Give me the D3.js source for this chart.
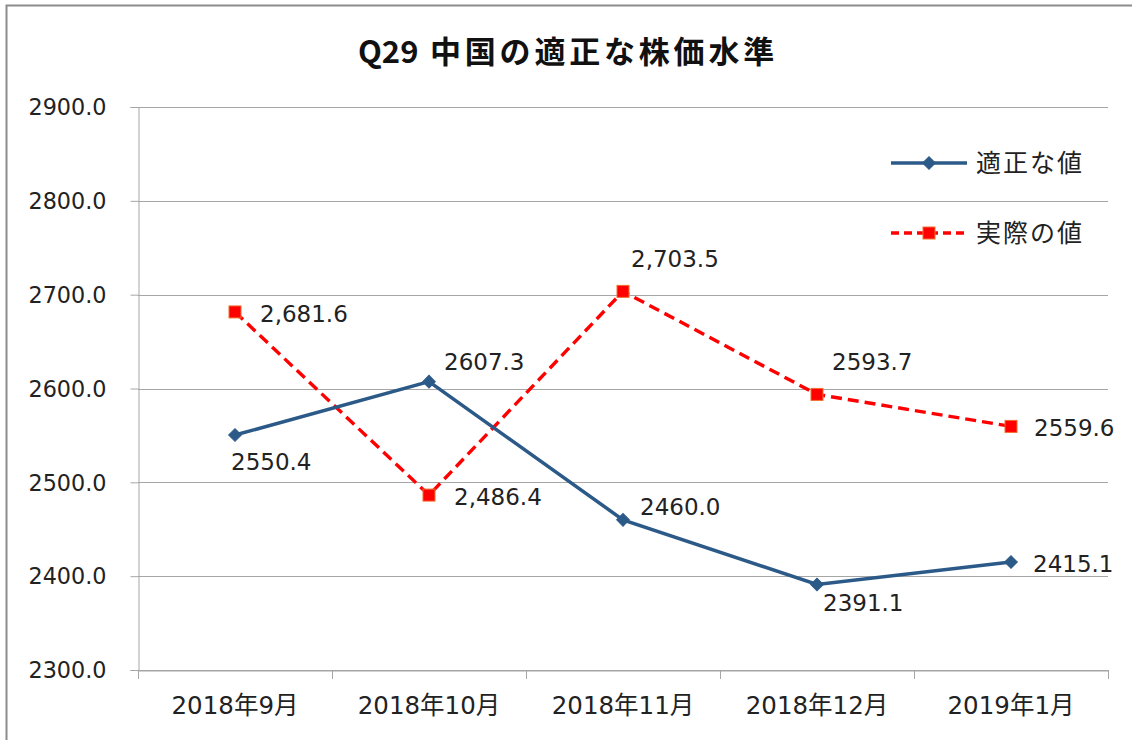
<!DOCTYPE html>
<html><head><meta charset="utf-8">
<script src="https://cdn.jsdelivr.net/npm/d3@7"></script>
<style>body{margin:0;background:#fff}svg{display:block}</style>
</head><body>
<svg id="c" width="1132" height="740"></svg>
<script>
const categories = ["2018年9月","2018年10月","2018年11月","2018年12月","2019年1月"];
const fairValues = [2550.4, 2607.3, 2460.0, 2391.1, 2415.1];
const actualValues = [2681.6, 2486.4, 2703.5, 2593.7, 2559.6];
const fairLabels = ["2550.4","2607.3","2460.0","2391.1","2415.1"];
const actualLabels = ["2,681.6","2,486.4","2,703.5","2593.7","2559.6"];
const yTicks = [2300,2400,2500,2600,2700,2800,2900];
const seriesNames = ["適正な値","実際の値"];
const titleParts = ["Q29", "中国の適正な株価水準"];

const svg = d3.select("#c");
const font = "'DejaVu Sans','Noto Sans CJK JP',sans-serif";
const cjk = "'Noto Sans CJK JP',sans-serif";
const L=138,R=1108,T=107,B=670;

svg.append("rect").attr("x",6.5).attr("y",5.5).attr("width",1140).attr("height",760)
  .attr("fill","#fff").attr("stroke","#8c8c8c").attr("stroke-width",2);

const x = d3.scaleBand().domain(categories).range([L,R]);
const y = d3.scaleLinear().domain([2300,2900]).range([B,T]);

// gridlines
svg.append("g").selectAll("line").data(yTicks).join("line")
  .attr("x1",L).attr("x2",R).attr("y1",d=>Math.round(y(d))+0.5).attr("y2",d=>Math.round(y(d))+0.5)
  .attr("stroke","#a6a6a6").attr("stroke-width",1);

// y axis
const ya = svg.append("g").attr("transform",`translate(${L+0.5},0)`)
  .call(d3.axisLeft(y).tickValues(yTicks).tickSize(8).tickPadding(6).tickFormat(d3.format(".1f")));
ya.selectAll("path,line").attr("stroke","#a6a6a6");
ya.selectAll("text").attr("font-family",font).attr("font-size",22.3).attr("fill","#222").attr("dx",-18).attr("dy","0.35em");

// x axis
const xa = svg.append("g").attr("transform",`translate(0,${B+0.5})`)
  .call(d3.axisBottom(x).tickSize(0).tickPadding(26));
xa.select("path").attr("stroke","#a6a6a6");
xa.selectAll("text").attr("font-family",font).attr("font-size",24.5).attr("fill","#222");
svg.append("g").selectAll("line").data(d3.range(categories.length+1)).join("line")
  .attr("x1",i=>Math.round(L+i*x.bandwidth())+0.5).attr("x2",i=>Math.round(L+i*x.bandwidth())+0.5)
  .attr("y1",B).attr("y2",B+9).attr("stroke","#a6a6a6");

const cx = c => x(c)+x.bandwidth()/2;
const line = d3.line().x((d,i)=>cx(categories[i])).y(d=>y(d));

const blue="#2c5a88", red="#ff0000";
svg.append("path").datum(actualValues).attr("d",line).attr("fill","none")
  .attr("stroke",red).attr("stroke-width",3.4).attr("stroke-dasharray","11,6");
svg.append("path").datum(fairValues).attr("d",line).attr("fill","none")
  .attr("stroke",blue).attr("stroke-width",3.5);

svg.append("g").selectAll("path").data(fairValues).join("path")
  .attr("d",d3.symbol().type(d3.symbolSquare).size(80))
  .attr("transform",(d,i)=>`translate(${cx(categories[i])},${y(d)}) rotate(45)`)
  .attr("fill",blue).attr("stroke",blue).attr("stroke-width",1);
svg.append("g").selectAll("rect").data(actualValues).join("rect")
  .attr("x",(d,i)=>cx(categories[i])-6).attr("y",d=>y(d)-6).attr("width",12).attr("height",12)
  .attr("fill",red).attr("stroke","#f07030").attr("stroke-width",1);

// data labels: offsets [dx, dy] relative to point
const fairOff = [[-4,27],[15,-20],[17,-13],[6,18],[22,2]];
const actOff = [[25,2],[25,2],[8,-32],[15,-32],[23,2]];
const lblG = svg.append("g").attr("font-family",font).attr("font-size",23).attr("fill","#222");
fairValues.forEach((v,i)=>{
  lblG.append("text").attr("x",cx(categories[i])+fairOff[i][0]).attr("y",y(v)+fairOff[i][1])
    .attr("dy","0.35em").text(fairLabels[i]);
});
actualValues.forEach((v,i)=>{
  lblG.append("text").attr("x",cx(categories[i])+actOff[i][0]).attr("y",y(v)+actOff[i][1])
    .attr("dy","0.35em").text(actualLabels[i]);
});

// title
const tt = svg.append("text").attr("x",358).attr("y",52).attr("dy","0.35em")
  .attr("font-family",cjk).attr("font-size",31).attr("font-weight","bold").attr("fill","#111");
tt.append("tspan").text(titleParts[0]);
tt.append("tspan").text(" ");
tt.append("tspan").attr("x",430).attr("letter-spacing",3.8).text(titleParts[1]);

// legend
const lg = svg.append("g");
[[163,blue,null,"dia"],[233,red,"8,5","sq"]].forEach((s,k)=>{
  lg.append("line").attr("x1",891).attr("x2",967).attr("y1",s[0]).attr("y2",s[0])
    .attr("stroke",s[1]).attr("stroke-width",3.4).attr("stroke-dasharray",s[2]);
  if(s[3]==="dia") lg.append("path").attr("d",d3.symbol().type(d3.symbolSquare).size(80)).attr("transform",`translate(929,${s[0]}) rotate(45)`).attr("fill",blue).attr("stroke",blue);
  else lg.append("rect").attr("x",923).attr("y",s[0]-6).attr("width",12).attr("height",12).attr("fill",red).attr("stroke","#f07030");
  lg.append("text").attr("x",976).attr("y",s[0]).attr("dy","0.35em")
    .attr("font-family",cjk).attr("font-size",25).attr("letter-spacing",2).attr("fill","#222").text(seriesNames[k]);
});
</script>
</body></html>
